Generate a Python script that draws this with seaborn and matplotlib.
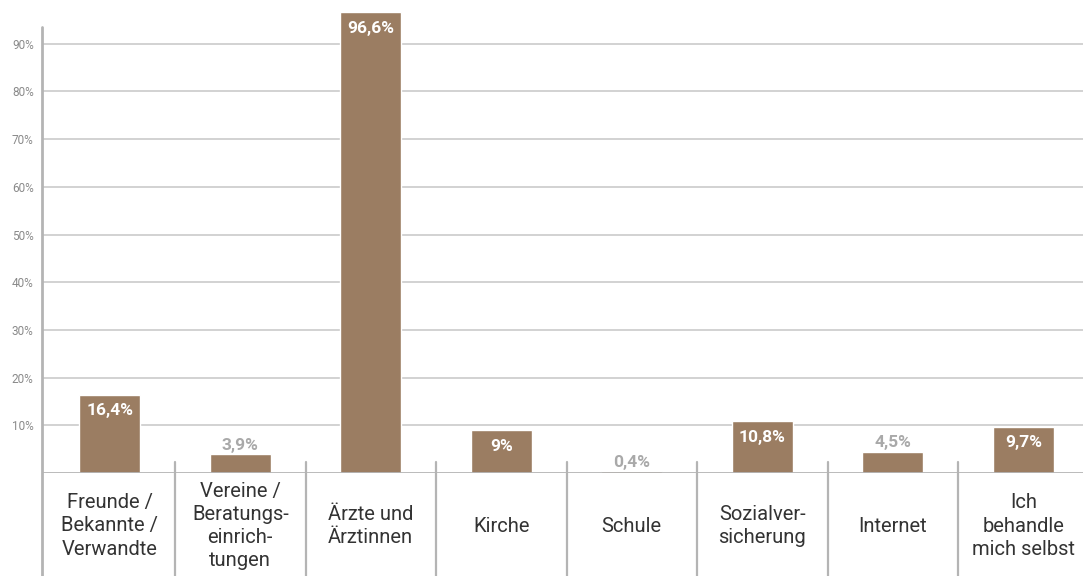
import matplotlib
matplotlib.use("Agg")
import matplotlib.pyplot as plt
import seaborn as sns
import pandas as pd

categories = ["Freunde /\nBekannte /\nVerwandte", "Vereine /\nBeratungs-\neinrich-\ntungen",
              "Ärzte und\nÄrztinnen", "Kirche", "Schule", "Sozialver-\nsicherung",
              "Internet", "Ich\nbehandle\nmich selbst"]
values = [16.4, 3.9, 96.6, 9.0, 0.4, 10.8, 4.5, 9.7]
yticks = [10, 20, 30, 40, 50, 60, 70, 80, 90]

sns.set_theme(style="white")
plt.rcParams['font.family'] = ['Roboto', 'DejaVu Sans']

W, H = 1083, 576
fig = plt.figure(figsize=(W / 100, H / 100), dpi=100)
ax_left, ax_bottom, ax_top = 42, 473, 0
ax = fig.add_axes([ax_left / W, (H - ax_bottom) / H, (W - ax_left) / W, (ax_bottom - ax_top) / H])

df = pd.DataFrame({"cat": categories, "val": values})
bar_color = "#9b7d62"
sns.barplot(data=df, x="cat", y="val", color=bar_color, width=0.47, saturation=1, ax=ax)

px_per_unit = 4.77
ymax = (ax_bottom - ax_top) / px_per_unit
ax.set_ylim(0, ymax)
cat_w = 130.5
x0 = -0.5 - 2.5 / cat_w
ax.set_xlim(x0, x0 + (W - ax_left) / cat_w)

for s in ax.spines.values():
    s.set_visible(False)

ax.set_yticks(yticks)
ax.set_yticklabels([f"{t}%" for t in yticks], color="#8a8a8a", fontsize=8.5)
ax.tick_params(axis="y", length=0, pad=6)
ax.yaxis.grid(True, color="#c6c6c6", linewidth=1.1)
ax.set_axisbelow(True)
ax.set_xticks([])
ax.set_xlabel("")
ax.set_ylabel("")

line_col = "#b4b4b4"
bottom_data = -(H - ax_bottom) / px_per_unit
ax.axhline(0, color=line_col, linewidth=2, zorder=3)
ax.plot([x0, x0], [bottom_data, 93.5], color=line_col, linewidth=2, clip_on=False, zorder=3)
for i in range(len(categories)):
    xs = i + 0.5
    ax.plot([xs, xs], [bottom_data, 2.3], color=line_col, linewidth=1.6, clip_on=False, zorder=3)

label_y = -(526 - ax_bottom) / px_per_unit
for i, c in enumerate(categories):
    ax.text(i, label_y, c, ha="center", va="center", fontsize=14.5, color="#333333",
            linespacing=1.28, clip_on=False)

for i, v in enumerate(values):
    txt = f"{v:g}".replace(".", ",") + "%"
    if v >= 9:
        ax.text(i, v - 16 / px_per_unit, txt, ha="center", va="center", fontsize=12.5,
                fontweight="bold", color="white", zorder=4)
    else:
        ax.text(i, v + 9 / px_per_unit, txt, ha="center", va="center", fontsize=12.5,
                fontweight="bold", color="#a9a9a9", zorder=4)

fig.savefig("out.png", dpi=100)
